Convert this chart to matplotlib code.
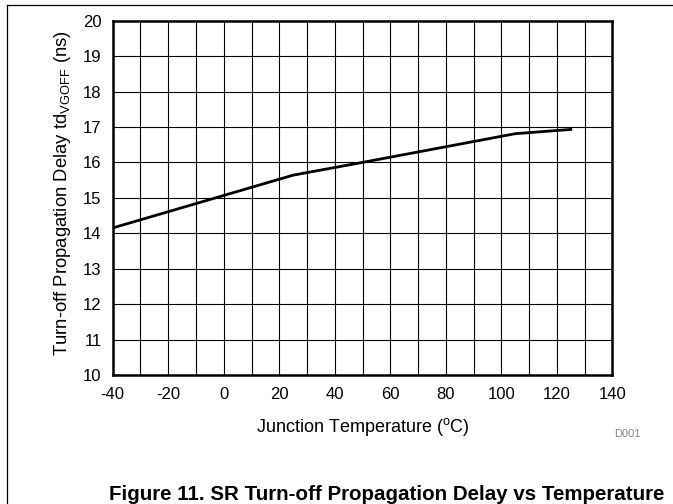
import matplotlib
matplotlib.use('Agg')
import matplotlib.pyplot as plt
from matplotlib.lines import Line2D

# 데이터
temp = [-40, 25, 50, 105, 125]
delay = [14.15, 15.64, 16.0, 16.81, 16.93]

x_ticks = [-40, -20, 0, 20, 40, 60, 80, 100, 120, 140]
y_ticks = [10, 11, 12, 13, 14, 15, 16, 17, 18, 19, 20]

plt.rcParams['font.family'] = ['Liberation Sans', 'DejaVu Sans']
plt.rcParams['mathtext.fontset'] = 'custom'
plt.rcParams['mathtext.rm'] = 'Liberation Sans'
plt.rcParams['mathtext.it'] = 'Liberation Sans'
plt.rcParams['axes.unicode_minus'] = False

fig = plt.figure(figsize=(6.73, 5.04), dpi=100)
ax = fig.add_axes([0.1675, 0.256, 0.7425, 0.703])

# 10 단위 격자
ax.set_xticks(range(-40, 141, 10), minor=True)
ax.grid(True, which='both', color='black', linewidth=0.8)
ax.set_axisbelow(True)

ax.plot(temp, delay, color='black', linewidth=2.0)

ax.set_xlim(-40, 140)
ax.set_ylim(10, 20)
ax.set_xticks(x_ticks)
ax.set_yticks(y_ticks)
ax.tick_params(axis='both', which='both', length=0, labelsize=12)
ax.tick_params(axis='x', pad=9)
ax.tick_params(axis='y', pad=8)
for s in ax.spines.values():
    s.set_linewidth(1.8)

fig.text(0.5386, 0.153, r'Junction Temperature ($\mathrm{^{o}}$C)',
         ha='center', va='center', fontsize=13)
fig.text(0.093, 0.617, r'Turn-off Propagation Delay td$_{\mathrm{VGOFF}}$ (ns)',
         ha='center', va='center', rotation=90, fontsize=13.3)
fig.text(0.932, 0.139, 'D001', ha='center', va='center',
         fontsize=8, color='#888888')

# 바깥 테두리 (위, 왼쪽)
fig.add_artist(Line2D([7 / 673, 1.0], [1 - 5 / 504, 1 - 5 / 504],
                      color='black', linewidth=0.9))
fig.add_artist(Line2D([7 / 673, 7 / 673], [0, 1 - 5 / 504],
                      color='black', linewidth=0.9))

fig.text(109 / 673, 1 - 494 / 504,
         'Figure 11. SR Turn-off Propagation Delay vs Temperature',
         ha='left', va='center', fontsize=14.8, fontweight='bold')

fig.savefig('out.png', dpi=100)
